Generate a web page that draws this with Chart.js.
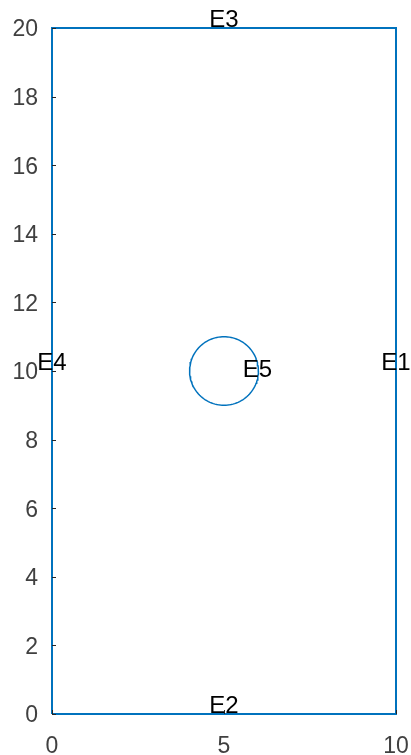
<!DOCTYPE html>
<html>
<head>
<meta charset="utf-8">
<script src="https://cdn.jsdelivr.net/npm/chart.js@4"></script>
<style>
  html, body { margin: 0; padding: 0; background: #fff; }
  canvas { display: block; }
</style>
</head>
<body>
<canvas id="geom" width="411" height="755"></canvas>
<script>
// ---- data ----
const rectX = [0, 10, 10, 0, 0];
const rectY = [0, 0, 20, 20, 0];
const circleCenter = [5, 10];
const circleRadius = 1;
const edgeLabels = ["E1", "E2", "E3", "E4", "E5"];
const edgeLabelX = [10, 5, 5, 0, 5.97];
const edgeLabelY = [10, 0, 20, 10, 9.8];
const xTickValues = [0, 5, 10];
const yTickValues = [0, 2, 4, 6, 8, 10, 12, 14, 16, 18, 20];

const FONT = '"Liberation Sans", Arial, sans-serif';
const BLUE = "#0072BD";
const AXIS = "#262626";

// circle outline from center + radius
const circlePts = [];
for (let i = 0; i <= 120; i++) {
  const a = (i / 120) * 2 * Math.PI;
  circlePts.push({ x: circleCenter[0] + circleRadius * Math.cos(a), y: circleCenter[1] + circleRadius * Math.sin(a) });
}
const rectPts = rectX.map((x, i) => ({ x, y: rectY[i] }));

// inward tick marks + edge labels
const decorPlugin = {
  id: "decor",
  afterDraw(chart) {
    const { ctx, scales } = chart;
    const xs = scales.x, ys = scales.y;
    ctx.save();
    ctx.strokeStyle = AXIS;
    ctx.lineWidth = 1;
    ctx.beginPath();
    yTickValues.forEach(v => {
      const py = Math.round(ys.getPixelForValue(v)) + 0.5;
      ctx.moveTo(xs.left, py);
      ctx.lineTo(xs.left + 4, py);
    });
    xTickValues.forEach(v => {
      const px = Math.round(xs.getPixelForValue(v)) + 0.5;
      ctx.moveTo(px, ys.bottom);
      ctx.lineTo(px, ys.bottom - 4);
    });
    ctx.stroke();

    ctx.fillStyle = "#000";
    ctx.font = "24px " + FONT;
    ctx.textAlign = "center";
    ctx.textBaseline = "alphabetic";
    edgeLabels.forEach((t, i) => {
      ctx.fillText(t, xs.getPixelForValue(edgeLabelX[i]), ys.getPixelForValue(edgeLabelY[i]) - 1);
    });
    ctx.restore();
  }
};

new Chart(document.getElementById("geom"), {
  type: "scatter",
  data: {
    datasets: [
      {
        data: rectPts,
        showLine: true,
        borderColor: BLUE,
        borderWidth: 2,
        pointRadius: 0,
        clip: false
      },
      {
        data: circlePts,
        showLine: true,
        borderColor: BLUE,
        borderWidth: 1.5,
        pointRadius: 0,
        tension: 0,
        clip: false
      }
    ]
  },
  options: {
    responsive: false,
    animation: false,
    layout: { padding: { top: 28, right: 15, left: 0, bottom: 0 } },
    plugins: { legend: { display: false }, tooltip: { enabled: false } },
    scales: {
      x: {
        type: "linear",
        min: 0,
        max: 10,
        afterBuildTicks: s => { s.ticks = xTickValues.map(v => ({ value: v })); },
        afterFit: s => { s.height = 41; s.paddingLeft = 0; s.paddingRight = 0; },
        grid: { display: true, drawOnChartArea: false, drawTicks: false },
        border: { color: AXIS, width: 1 },
        ticks: { color: "#404040", font: { family: FONT, size: 23 }, padding: 19, maxRotation: 0 }
      },
      y: {
        type: "linear",
        min: 0,
        max: 20,
        afterBuildTicks: s => { s.ticks = yTickValues.map(v => ({ value: v })); },
        afterFit: s => { s.width = 52; s.paddingTop = 0; s.paddingBottom = 0; },
        grid: { display: true, drawOnChartArea: false, drawTicks: false },
        border: { color: AXIS, width: 1 },
        ticks: { color: "#404040", font: { family: FONT, size: 23 }, padding: 14, labelOffset: 2 }
      }
    }
  },
  plugins: [decorPlugin]
});
</script>
</body>
</html>
